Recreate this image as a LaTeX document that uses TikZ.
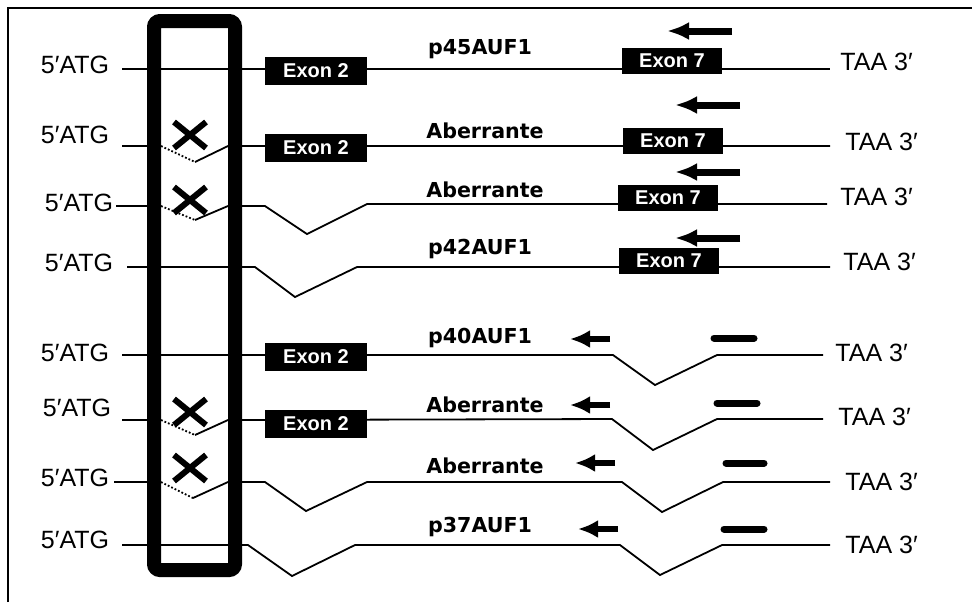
\documentclass[tikz,border=0pt]{standalone}
\usepackage{fontspec}
\setmainfont{Liberation Sans}
\newfontfamily\isofont{DejaVu Sans}
\usetikzlibrary{arrows.meta}

\begin{document}
\begin{tikzpicture}[x=0.5pt,y=-0.5pt,
  rna/.style={draw,line width=0.9pt},
  skip/.style={draw,line width=0.9pt,densely dotted},
  atg/.style={font=\fontsize{12.5}{14}\selectfont,inner sep=0pt},
  taa/.style={font=\fontsize{12.5}{14}\selectfont,anchor=west,inner sep=0pt},
  iso/.style={font=\isofont\bfseries\fontsize{10.3}{12}\selectfont,anchor=base,inner sep=0pt},
  exontwo/.style={fill=black,text=white,minimum width=51pt,minimum height=14pt,inner sep=0pt,font=\bfseries\fontsize{10}{10}\selectfont},
  exonseven/.style={exontwo,minimum width=50pt,minimum height=13pt},
  xmark/.style={draw,line width=3pt},
  bigprimer/.style={draw,line width=3.5pt,-{Latex[length=11pt,width=9pt]}},
  smallprimer/.style={draw,line width=3pt,-{Latex[length=10pt,width=9pt]}},
  stub/.style={draw,line width=3.5pt,line cap=round}]

\useasboundingbox (0,0) rectangle (972,602);
% frame
\draw[line width=1pt] (8,602) -- (8,8) -- (972,8);

% transcripts
\path[rna] (122,69) -- (830,69);
\path[rna] (122,146) -- (161,146);
\path[skip] (161,146) -- (195,162);
\path[rna] (195,162) -- (228,146) -- (830,146);
\path[rna] (116,206) -- (161,206);
\path[skip] (161,206) -- (195,220);
\path[rna] (195,220) -- (228,206) -- (265,206) -- (307,234) -- (367,204) -- (827,204);
\path[rna] (127,267) -- (255,267) -- (295,297) -- (357,267) -- (830,267);
\path[rna] (122,355) -- (613,355) -- (655,385) -- (717,355) -- (823,355);
\path[rna] (122,420) -- (161,420);
\path[skip] (161,420) -- (195,435);
\path[rna] (195,435) -- (228,420) -- (612,419) -- (653,450) -- (717,419) -- (823,419);
\path[rna] (114,482) -- (161,482);
\path[skip] (161,482) -- (193,498);
\path[rna] (193,498) -- (228,482) -- (265,482) -- (306,511) -- (367,482) -- (622,482) -- (662,512) -- (723,482) -- (830,482);
\path[rna] (122,545) -- (248,545) -- (292,576) -- (355,545) -- (620,545) -- (660,575) -- (722,545) -- (830,545);

% exon 3 box
\draw[line width=7pt,rounded corners=3pt] (154,21) rectangle (235,570);

\foreach \y in {135,200,412,468}
  \path[xmark] (190,\y) +(-16,-13) -- +(16,13) (190,\y) +(-16,13) -- +(16,-13);

% exons
\node[exontwo] (ex2a) at (316,71) {Exon 2};
\node[exontwo] (ex2b) at (316,148) {Exon 2};
\node[exontwo] (ex2c) at (316,357) {Exon 2};
\node[exontwo] (ex2d) at (316,424) {Exon 2};
\node[exonseven] (ex7a) at (672,61) {Exon 7};
\node[exonseven] (ex7b) at (673,141) {Exon 7};
\node[exonseven] (ex7c) at (668,198) {Exon 7};
\node[exonseven] (ex7d) at (669,261) {Exon 7};

% primers
\path[bigprimer] (732,31) -- (667,31);
\path[bigprimer] (740,105) -- (675,105);
\path[bigprimer] (740,172) -- (675,172);
\path[bigprimer] (740,238) -- (675,238);
\path[smallprimer] (610,339) -- (570,339);
\path[smallprimer] (610,405) -- (570,405);
\path[smallprimer] (615,463) -- (575,463);
\path[smallprimer] (618,529) -- (578,529);
\path[stub] (714,338) -- (754,338);
\path[stub] (717,403) -- (757,403);
\path[stub] (726,463) -- (764,463);
\path[stub] (724,529) -- (764,529);

% labels
\node[atg] (atg1) at (75,65) {5′ATG};
\node[atg] (atg2) at (75,135) {5′ATG};
\node[atg] (atg3) at (79,203) {5′ATG};
\node[atg] (atg4) at (79,263) {5′ATG};
\node[atg] (atg5) at (75,353) {5′ATG};
\node[atg] (atg6) at (77,408) {5′ATG};
\node[atg] (atg7) at (75,478) {5′ATG};
\node[atg] (atg8) at (75,540) {5′ATG};

\node[iso] (iso1) at (480,54) {p45AUF1};
\node[iso] (iso2) at (485,138) {Aberrante};
\node[iso] (iso3) at (485,197) {Aberrante};
\node[iso] (iso4) at (480,254) {p42AUF1};
\node[iso] (iso5) at (480,343) {p40AUF1};
\node[iso] (iso6) at (485,412) {Aberrante};
\node[iso] (iso7) at (485,473) {Aberrante};
\node[iso] (iso8) at (480,532) {p37AUF1};

\node[taa] (taa1) at (840,62) {TAA 3′};
\node[taa] (taa2) at (845,142) {TAA 3′};
\node[taa] (taa3) at (840,197) {TAA 3′};
\node[taa] (taa4) at (843,262) {TAA 3′};
\node[taa] (taa5) at (835,353) {TAA 3′};
\node[taa] (taa6) at (838,417) {TAA 3′};
\node[taa] (taa7) at (845,482) {TAA 3′};
\node[taa] (taa8) at (845,545) {TAA 3′};
\end{tikzpicture}
\end{document}
